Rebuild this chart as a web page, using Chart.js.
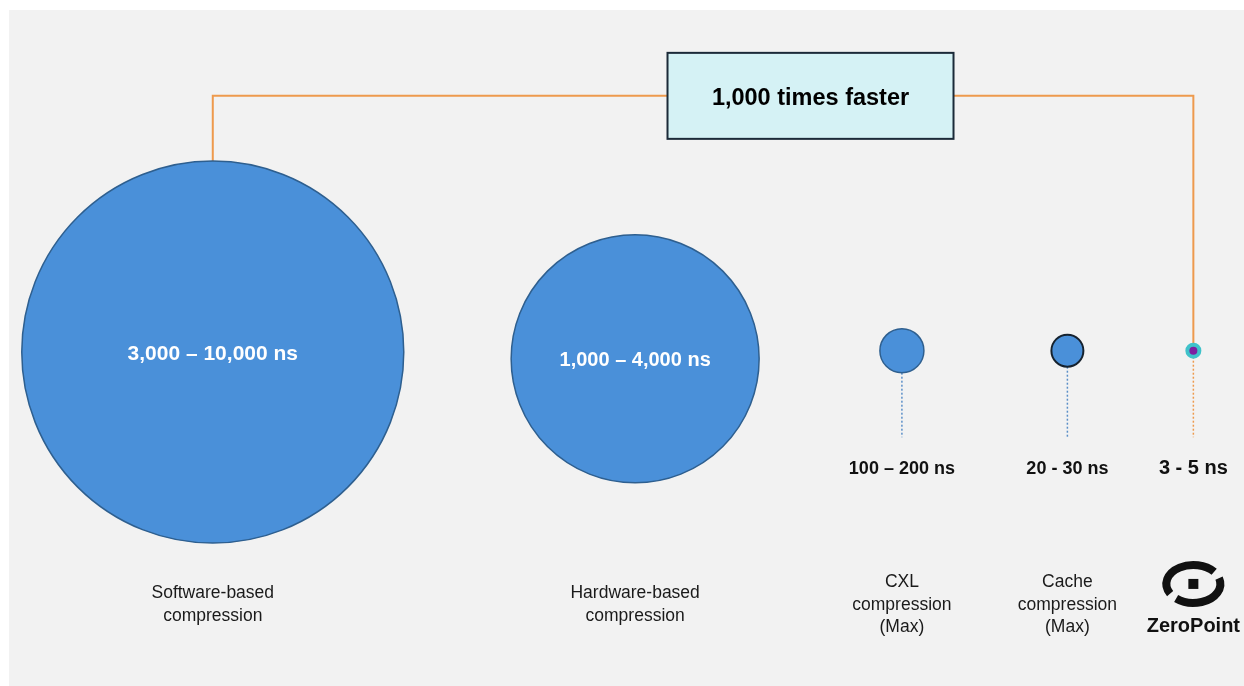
<!DOCTYPE html>
<html>
<head>
<meta charset="utf-8">
<script src="https://cdn.jsdelivr.net/npm/chart.js@4"></script>
<style>
html, body { margin:0; background:#fff; }
#wrap { position:absolute; left:9px; top:10px; width:1235px; height:676px; background:#f2f2f2; }
</style>
</head>
<body>
<div id="wrap"><canvas id="latencyChart" width="1235" height="676"></canvas></div>
<script>
// ---- data ----
const categoryLines = [["Software-based", "compression"],
                       ["Hardware-based", "compression"],
                       ["CXL", "compression", "(Max)"],
                       ["Cache", "compression", "(Max)"],
                       []]; //last one is the ZeroPoint logo
const latencyText = ["3,000 \u2013 10,000 ns", "1,000 \u2013 4,000 ns", "100 \u2013 200 ns", "20 - 30 ns", "3 - 5 ns"];
const bubbleSize = [191, 124, 22, 16, 6]; //relative circle size as drawn
const speedupText = "1,000 times faster";
const brandName = "ZeroPoint";

// ---- layout (axis units, 0-100 both ways) ----
const columnX = [16.5, 50.7, 72.3, 85.7, 95.9];
const rowY = [49.4, 48.4, 49.6, 49.6, 49.6];
const stemEndY = 36.8;
const latencyLabelY = 32.4;
const categoryLabelY = 12.0;
const logoY = 15.1;
const brandY = 9.1;
const connectorY = 87.3;
const boxX = 64.9;

// ---- styles ----
const FONT = "'Liberation Sans', Arial, sans-serif";
const TEXT_NUDGE = 2; //middle baseline sits a bit high with this font
const bubbleFill = ["#4a90d9", "#4a90d9", "#4a90d9", "#4a90d9", "#7d1fa0"];
const bubbleBorder = ["#2e5f8f", "#2e5f8f", "#2e5f8f", "#16222e", "#3fc2ca"];
const bubbleBorderW = [1.5, 1.5, 1.5, 2, 4];
const latencyFont = [21, 20, 18, 18, 20];
const stemColour = ["", "", "#5b8fc8", "#5b8fc8", "#ee9a4d"];
const orange = "#ee9a4d";

const overlay = {
	id: "overlay",
	beforeDatasetsDraw(chart){
		const ctx = chart.ctx;
		const pts = chart.getDatasetMeta(0).data;
		const xs = chart.scales.x, ys = chart.scales.y;
		const first = pts[0], last = pts[pts.length - 1];
		const lineY = ys.getPixelForValue(connectorY);

		ctx.save();
		//orange connector from first to last bubble
		ctx.strokeStyle = orange;
		ctx.lineWidth = 2;
		ctx.beginPath();
		ctx.moveTo(first.x, first.y - bubbleSize[0]);
		ctx.lineTo(first.x, lineY);
		ctx.lineTo(last.x, lineY);
		ctx.lineTo(last.x, last.y);
		ctx.stroke();

		//speedup box
		const bx = xs.getPixelForValue(boxX), bw = 286, bh = 86;
		ctx.fillStyle = "#d5f2f5";
		ctx.fillRect(bx - bw/2, lineY - bh/2, bw, bh);
		ctx.strokeStyle = "#1b2a38";
		ctx.lineWidth = 2;
		ctx.strokeRect(bx - bw/2, lineY - bh/2, bw, bh);
		ctx.fillStyle = "#000";
		ctx.font = "bold 23.5px " + FONT;
		ctx.textAlign = "center";
		ctx.textBaseline = "middle";
		ctx.fillText(speedupText, bx, lineY + TEXT_NUDGE + 1);

		//dotted stems under the small bubbles
		const stemEnd = ys.getPixelForValue(stemEndY);
		ctx.lineWidth = 1.5;
		ctx.setLineDash([2, 2]);
		pts.forEach(function(p, i){
			if(!stemColour[i]) return;
			ctx.strokeStyle = stemColour[i];
			ctx.beginPath();
			ctx.moveTo(p.x, p.y + bubbleSize[i]);
			ctx.lineTo(p.x, stemEnd);
			ctx.stroke();
		});
		ctx.restore();
	},
	afterDatasetsDraw(chart){
		const ctx = chart.ctx;
		const pts = chart.getDatasetMeta(0).data;
		const ys = chart.scales.y;
		ctx.save();
		ctx.textAlign = "center";
		ctx.textBaseline = "middle";

		pts.forEach(function(p, i){
			//latency text: inside big circles, below small ones
			ctx.font = "bold " + latencyFont[i] + "px " + FONT;
			if(bubbleSize[i] > 60){
				ctx.fillStyle = "#fff";
				ctx.fillText(latencyText[i], p.x, p.y + TEXT_NUDGE);
			} else {
				ctx.fillStyle = "#111";
				ctx.fillText(latencyText[i], p.x, ys.getPixelForValue(latencyLabelY) + TEXT_NUDGE);
			}
			//category text
			const lines = categoryLines[i];
			const cy = ys.getPixelForValue(categoryLabelY);
			const lh = 22.5;
			ctx.font = "17.5px " + FONT;
			ctx.fillStyle = "#1a1a1a";
			lines.forEach(function(t, k){
				ctx.fillText(t, p.x, cy + (k - (lines.length - 1)/2) * lh);
			});
		});

		//ZeroPoint logo under the last column
		const lp = pts[pts.length - 1];
		const ly = ys.getPixelForValue(logoY);
		ctx.strokeStyle = "#111";
		ctx.lineWidth = 8;
		ctx.beginPath();
		ctx.ellipse(lp.x, ly, 27, 19, 0, Math.PI * 0.83, Math.PI * 1.78);
		ctx.stroke();
		ctx.beginPath();
		ctx.ellipse(lp.x, ly, 27, 19, 0, Math.PI * 1.9, Math.PI * 0.72);
		ctx.stroke();
		ctx.fillStyle = "#111";
		ctx.fillRect(lp.x - 5, ly - 5, 10, 10);
		ctx.font = "bold 20px " + FONT;
		ctx.fillText(brandName, lp.x, ys.getPixelForValue(brandY) + TEXT_NUDGE);
		ctx.restore();
	}
};

new Chart("latencyChart", {
	type: "bubble",
	data: {
		datasets: [{
			data: bubbleSize.map(function(r, i){ return {x: columnX[i], y: rowY[i], r: r}; }),
			backgroundColor: bubbleFill,
			borderColor: bubbleBorder,
			borderWidth: bubbleBorderW,
			clip: false
		}]
	},
	options: {
		responsive: false,
		animation: false,
		events: [],
		layout: {padding: 0, autoPadding: false},
		plugins: {legend: {display: false}, tooltip: {enabled: false}},
		scales: {
			x: {type: "linear", min: 0, max: 100, display: false},
			y: {type: "linear", min: 0, max: 100, display: false}
		}
	},
	plugins: [overlay]
});
</script>
</body>
</html>
